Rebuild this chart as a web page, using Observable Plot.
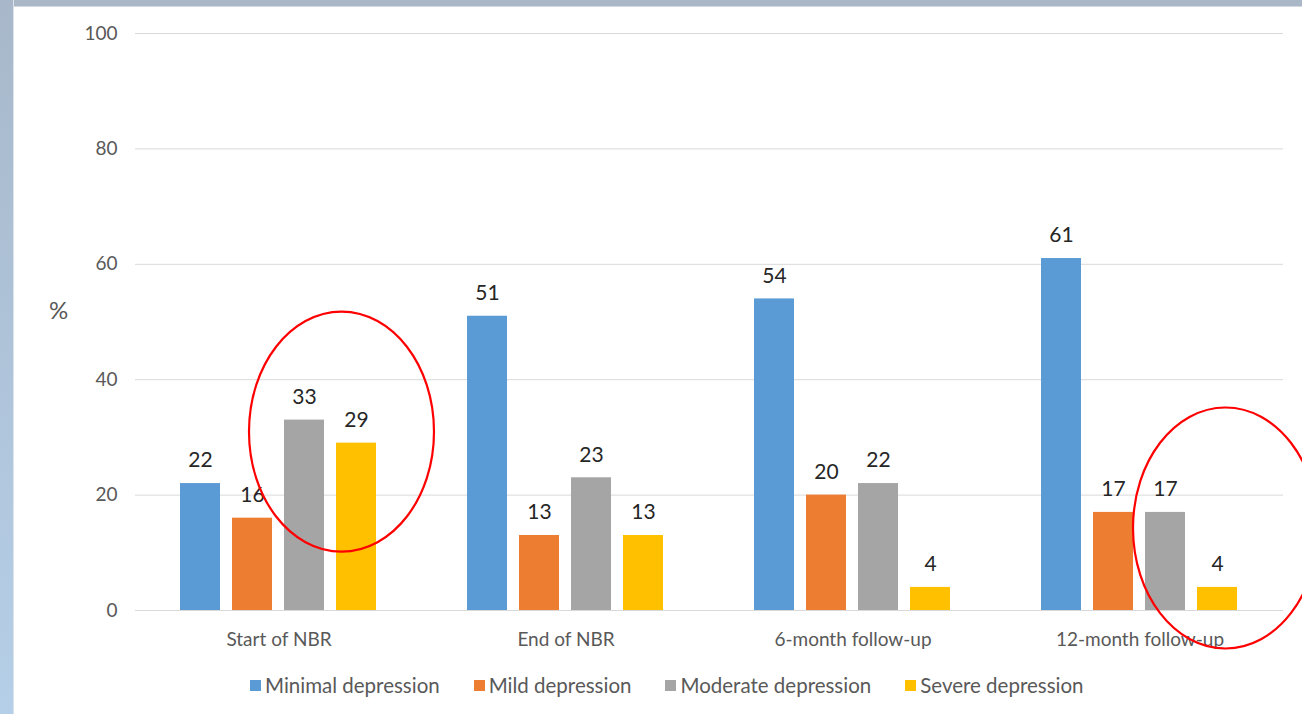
<!DOCTYPE html>
<html>
<head>
<meta charset="utf-8">
<script src="https://cdn.jsdelivr.net/npm/d3@7"></script>
<script src="https://cdn.jsdelivr.net/npm/@observablehq/plot@0.6"></script>
<style>
  html, body { margin: 0; padding: 0; }
  body { width: 1302px; height: 714px; overflow: hidden; position: relative; background: #ffffff; font-family: Lato, "Open Sans", sans-serif; }
  #topbar { position: absolute; left: 0; top: 0; width: 1302px; height: 6px; background: #a9b7c6; border-bottom: 1px solid #d3d9df; }
  #leftbar { position: absolute; left: 0; top: 0; width: 13px; height: 714px; background: linear-gradient(#a8b8ca, #b5cfe8); border-right: 1px solid #dde3ea; }
  #panel { position: absolute; left: 14px; top: 7px; width: 1288px; height: 707px; background: #ffffff; }
  #ylabel { position: absolute; left: 35px; top: 288px; font-size: 24px; color: #595959; }
  #legend { position: absolute; left: 236px; top: 666px; display: flex; gap: 34px; font-size: 20.5px; color: #595959; white-space: nowrap; }
  .item { display: flex; align-items: center; }
  .sw { width: 11px; height: 11px; margin-right: 4px; }
</style>
</head>
<body>
<div id="topbar"></div>
<div id="leftbar"></div>
<div id="panel">
  <div id="chart"></div>
  <div id="ylabel">%</div>
  <div id="legend"></div>
</div>
<script>
const categories = ["Start of NBR", "End of NBR", "6-month follow-up", "12-month follow-up"];
const series = ["Minimal depression", "Mild depression", "Moderate depression", "Severe depression"];
const minimal = [22, 51, 54, 61];
const mild = [16, 13, 20, 17];
const moderate = [33, 23, 22, 17];
const severe = [29, 13, 4, 4];
const yTicks = [0, 20, 40, 60, 80, 100];
const colors = ["#5b9bd5", "#ed7d31", "#a5a5a5", "#ffc000"];
// highlighted (circled) groups: category, series near centre, value at centre
const highlight1 = [{category: "Start of NBR", series: "Severe depression", value: 31}];
const highlight2 = [{category: "12-month follow-up", series: "Severe depression", value: 14.3}];

const valuesBySeries = [minimal, mild, moderate, severe];
const rows = [];
categories.forEach((c, i) => {
  series.forEach((s, j) => rows.push({category: c, series: s, value: valuesBySeries[j][i]}));
});

function ellipseSymbol(rx, ry) {
  return {
    draw(ctx) {
      const k = 0.5523;
      ctx.moveTo(rx, 0);
      ctx.bezierCurveTo(rx, ry * k, rx * k, ry, 0, ry);
      ctx.bezierCurveTo(-rx * k, ry, -rx, ry * k, -rx, 0);
      ctx.bezierCurveTo(-rx, -ry * k, -rx * k, -ry, 0, -ry);
      ctx.bezierCurveTo(rx * k, -ry, rx, -ry * k, rx, 0);
      ctx.closePath();
    }
  };
}

const chart = Plot.plot({
  width: 1288,
  height: 648,
  marginLeft: 120,
  marginRight: 18,
  marginTop: 26,
  marginBottom: 45,
  style: {fontFamily: "Lato, 'Open Sans', sans-serif", background: "transparent", overflow: "hidden"},
  fx: {domain: categories, padding: 0, label: null},
  x: {domain: series, paddingInner: 0.2215, paddingOuter: 0.84, align: 0.5, axis: null},
  y: {domain: [0, 100], label: null},
  color: {domain: series, range: colors},
  marks: [
    Plot.gridY({ticks: yTicks, stroke: "#d9d9d9", strokeOpacity: 1, strokeWidth: 1}),
    Plot.axisY({ticks: yTicks, tickSize: 0, tickPadding: 18, fontSize: 19, fill: "#595959", label: null}),
    Plot.axisFx({anchor: "bottom", tickSize: 0, tickPadding: 22, fontSize: 19, fill: "#595959", label: null}),
    Plot.barY(rows, {fx: "category", x: "series", y: "value", fill: "series"}),
    Plot.text(rows, {fx: "category", x: "series", y: "value", text: d => String(d.value), dy: -23, fontSize: 21, fill: "#262626"}),
    Plot.dot(highlight1, {fx: "category", x: "series", y: "value", dx: -15, r: 10, symbol: ellipseSymbol(92.5, 120), fill: "none", stroke: "#ff0000", strokeWidth: 2.2}),
    Plot.dot(highlight2, {fx: "category", x: "series", y: "value", dx: 8, r: 10, symbol: ellipseSymbol(92.5, 120.5), fill: "none", stroke: "#ff0000", strokeWidth: 2.2})
  ]
});
document.getElementById("chart").appendChild(chart);

const legend = document.getElementById("legend");
series.forEach((s, i) => {
  const item = document.createElement("div");
  item.className = "item";
  const sw = document.createElement("span");
  sw.className = "sw";
  sw.style.background = colors[i];
  const t = document.createElement("span");
  t.textContent = s;
  item.appendChild(sw);
  item.appendChild(t);
  legend.appendChild(item);
});
</script>
</body>
</html>
